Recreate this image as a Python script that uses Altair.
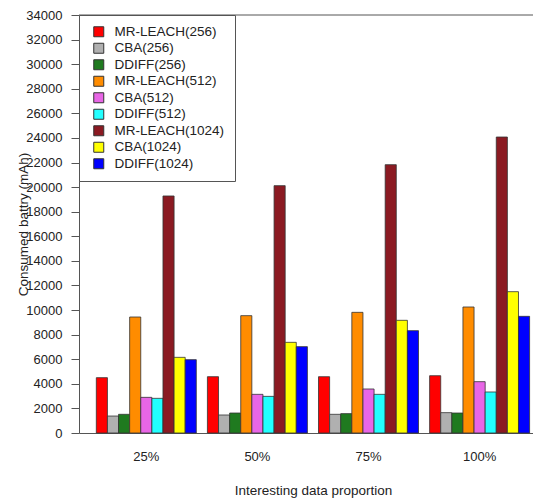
import altair as alt
import pandas as pd

categories = ["25%", "50%", "75%", "100%"]
series = ["MR-LEACH(256)", "CBA(256)", "DDIFF(256)",
          "MR-LEACH(512)", "CBA(512)", "DDIFF(512)",
          "MR-LEACH(1024)", "CBA(1024)", "DDIFF(1024)"]

mr_leach_256 = [4500, 4580, 4580, 4660]
cba_256 = [1380, 1465, 1520, 1655]
ddiff_256 = [1520, 1625, 1575, 1625]
mr_leach_512 = [9435, 9545, 9815, 10250]
cba_512 = [2900, 3145, 3580, 4175]
ddiff_512 = [2820, 2980, 3145, 3335]
mr_leach_1024 = [19280, 20120, 21825, 24075]
cba_1024 = [6155, 7375, 9165, 11495]
ddiff_1024 = [5965, 7025, 8325, 9490]

y_ticks = list(range(0, 34001, 2000))

colors = ["#FF0000", "#B0B0B0", "#1F7A1F", "#FF8C00", "#E866E6",
          "#22FFFF", "#8B1A22", "#FFFF00", "#0000FF"]

all_values = [mr_leach_256, cba_256, ddiff_256, mr_leach_512, cba_512,
              ddiff_512, mr_leach_1024, cba_1024, ddiff_1024]
rows = []
for s, vals in zip(series, all_values):
    for c, v in zip(categories, vals):
        rows.append({"proportion": c, "series": s, "value": v})
df = pd.DataFrame(rows)

txt = "#222222"
line = "#555555"

bars = alt.Chart(df).mark_bar(stroke="#333333", strokeWidth=0.8).encode(
    x=alt.X("proportion:N", sort=categories,
            scale=alt.Scale(paddingInner=0.1, paddingOuter=0.0932, align=0.836),
            axis=alt.Axis(title="Interesting data proportion", labelAngle=0,
                          ticks=False, domainColor=line, labelPadding=17,
                          labelFontSize=13, labelColor=txt,
                          titleFontSize=13.5, titleColor=txt, titleFontWeight="normal",
                          titleX=234, titleY=61, titleBaseline="alphabetic",
                          titleAlign="center")),
    xOffset=alt.XOffset("series:N", sort=series,
                        scale=alt.Scale(paddingInner=0, paddingOuter=0)),
    y=alt.Y("value:Q",
            scale=alt.Scale(domain=[0, 34000], nice=False, zero=True),
            axis=alt.Axis(values=y_ticks, format="d", title="Consumed battry (mAh)",
                          tickSize=8, labelPadding=9, grid=False,
                          domainColor=line, tickColor=line,
                          labelFontSize=13, labelColor=txt,
                          titleFontSize=13.5, titleColor=txt, titleFontWeight="normal",
                          titleX=-52, titleY=209, titleAngle=270,
                          titleBaseline="alphabetic", titleAlign="center")),
    color=alt.Color("series:N", sort=series,
                    scale=alt.Scale(domain=series, range=colors),
                    legend=alt.Legend(title=None, orient="none", legendX=0, legendY=0,
                                      padding=10, symbolOffset=3, labelOffset=9,
                                      symbolType="square", symbolSize=100,
                                      symbolStrokeColor="#333333", symbolStrokeWidth=1,
                                      labelFontSize=13.5, labelColor=txt,
                                      rowPadding=1.5, strokeColor=line,
                                      fillColor="white", cornerRadius=0)),
)

top = alt.Chart(pd.DataFrame({"k": [0]})).mark_rule(color=line, strokeWidth=1).encode(
    y=alt.value(0)
)

chart = alt.layer(bars, top).properties(
    width=454, height=418,
    padding={"left": 71, "top": 7, "right": 0, "bottom": 65},
    autosize=alt.AutoSizeParams(type="none"),
).configure(font="Liberation Sans").configure_view(strokeWidth=0)

chart.save("out.html", embed_options={"renderer": "svg", "actions": False})
